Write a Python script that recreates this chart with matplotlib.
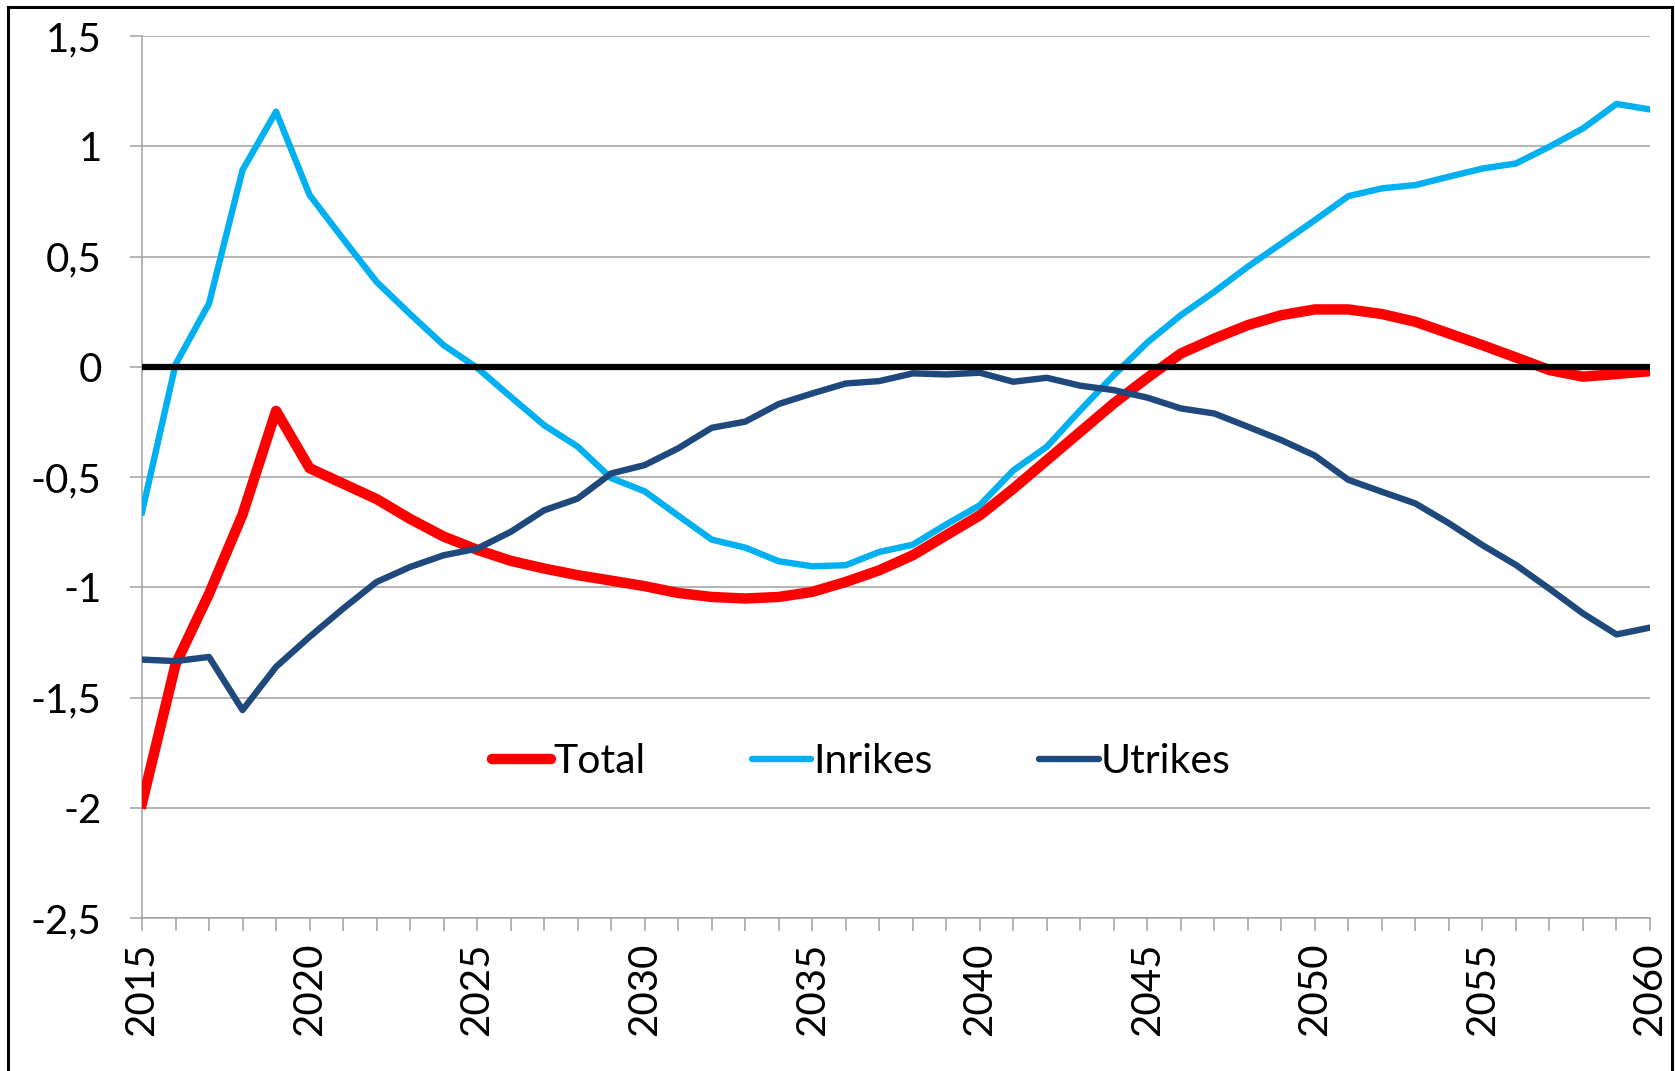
import matplotlib
matplotlib.use("Agg")
import matplotlib.pyplot as plt
from matplotlib.patches import Rectangle

plt.rcParams['font.family'] = ['Lato', 'DejaVu Sans']

years = list(range(2015, 2061))
total = [-1.98, -1.35, -1.03, -0.67, -0.20, -0.46, -0.53, -0.60, -0.69, -0.77,
         -0.83, -0.88, -0.915, -0.945, -0.97, -0.995, -1.026, -1.044, -1.051, -1.044,
         -1.021, -0.976, -0.923, -0.855, -0.764, -0.674, -0.553, -0.424, -0.295, -0.166,
         -0.05, 0.06, 0.128, 0.189, 0.234, 0.26, 0.26, 0.239, 0.204, 0.151,
         0.098, 0.042, -0.015, -0.045, -0.033, -0.02]
inrikes = [-0.66, 0.01, 0.287, 0.892, 1.157, 0.779, 0.58, 0.385, 0.239, 0.098,
           -0.005, -0.136, -0.265, -0.362, -0.505, -0.565, -0.675, -0.784, -0.82, -0.882,
           -0.905, -0.9, -0.84, -0.807, -0.715, -0.628, -0.47, -0.363, -0.197, -0.038,
           0.11, 0.234, 0.34, 0.454, 0.559, 0.665, 0.774, 0.809, 0.824, 0.862,
           0.899, 0.922, 0.998, 1.081, 1.192, 1.167]
utrikes = [-1.328, -1.335, -1.316, -1.557, -1.361, -1.225, -1.097, -0.976, -0.908, -0.855,
           -0.825, -0.749, -0.651, -0.598, -0.484, -0.446, -0.37, -0.277, -0.249, -0.169,
           -0.121, -0.076, -0.065, -0.03, -0.035, -0.027, -0.068, -0.05, -0.086, -0.106,
           -0.14, -0.189, -0.212, -0.272, -0.333, -0.403, -0.513, -0.567, -0.62, -0.71,
           -0.809, -0.899, -1.007, -1.119, -1.214, -1.183]

series_names = ["Total", "Inrikes", "Utrikes"]
series_colors = ["#FF0000", "#00B0F0", "#1F497D"]
series_widths = [7.5, 4.6, 4.6]

ytick_vals = [1.5, 1, 0.5, 0, -0.5, -1, -1.5, -2, -2.5]
ytick_labels = ["1,5", "1", "0,5", "0", "-0,5", "-1", "-1,5", "-2", "-2,5"]
xtick_major = list(range(2015, 2061, 5))

fig = plt.figure(figsize=(16.75, 10.71), dpi=100)
ax = fig.add_axes([142/1675, 1 - 918/1071, (1650 - 142)/1675, (918 - 36)/1071])

for vals, name, col, lw in zip([total, inrikes, utrikes], series_names, series_colors, series_widths):
    ax.plot(years, vals, color=col, lw=lw, label=name, solid_joinstyle='round', zorder=3)

ax.axhline(0, color='black', lw=4.5, zorder=5)

ax.set_xlim(2015, 2060)
ax.set_ylim(-2.5, 1.5)
ax.set_yticks(ytick_vals)
ax.set_yticklabels(ytick_labels)
ax.set_xticks(xtick_major)
ax.set_xticklabels([str(y) for y in xtick_major], rotation=90)
ax.set_xticks(years, minor=True)

ax.grid(axis='y', color='#A0A0A0', lw=1.1, zorder=0)
ax.tick_params(axis='y', which='major', length=9, width=1.1, color='#A0A0A0',
               labelsize=29, pad=20)
ax.tick_params(axis='x', which='both', length=9.5, width=1.1, color='#A0A0A0',
               labelsize=29, pad=8)
for s in ['top', 'right']:
    ax.spines[s].set_visible(False)
for s in ['left', 'bottom']:
    ax.spines[s].set_color('#A0A0A0')
    ax.spines[s].set_linewidth(1.1)

leg = ax.legend(loc='center', bbox_to_anchor=(0.477, 0.177), ncol=3, frameon=False,
                fontsize=29.5, handlelength=1.45, handletextpad=0.05, columnspacing=2.6)
for ln in leg.get_lines():
    ln.set_solid_capstyle('round')

fig.patches.append(Rectangle((8/1675, -0.05), (1672 - 8)/1675, 1 - 7/1071 + 0.05,
                             transform=fig.transFigure, fill=False, ec='black', lw=2.2))

fig.savefig("out.png", dpi=100)
